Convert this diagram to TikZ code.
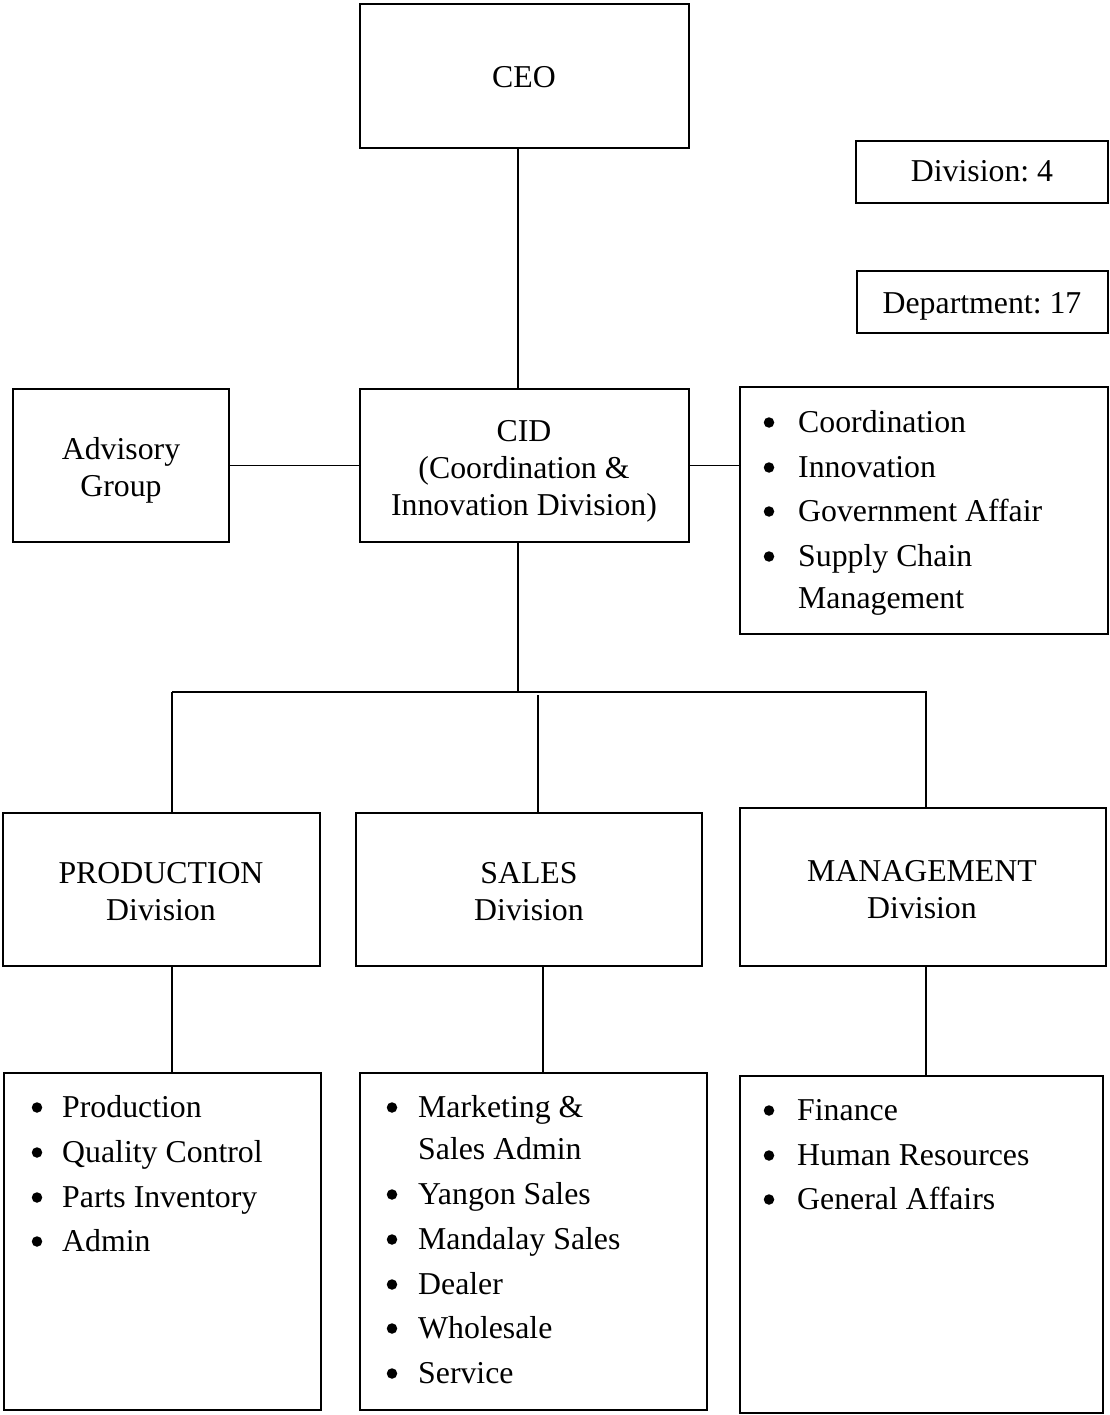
\documentclass[tikz,border=0pt]{standalone}
\usepackage{fontspec}
\setmainfont{Liberation Serif}
\frenchspacing
\begin{document}
\begin{tikzpicture}[x=1pt,y=-1pt,
  box/.style={draw=black,line width=2pt,rectangle,inner sep=0pt,outer sep=0pt},
  link/.style={draw=black,line width=1.2pt},
  txt/.style={inner sep=0pt,align=center,font=\fontsize{31.8pt}{37pt}\selectfont},
  dot/.style={circle,fill=black,inner sep=0pt,minimum size=10.5pt}]
\useasboundingbox[fill=white] (0,0) rectangle (1109,1415);

% one bulleted line: name, bullet x, text x, baseline y, text
\newcommand\listline[5]{%
  \node[dot] (#1b) at (#2,{#4-9.5}) {};
  \node[txt,anchor=base west] (#1) at (#3,#4) {#5};}
% continuation of a bulleted line
\newcommand\contline[4]{%
  \node[txt,anchor=base west] (#1) at (#2,#3) {#4};}

% ---- boxes ----
\node[box,minimum width=329,minimum height=144] (ceo) at (524.5,76) {};
\node[box,minimum width=252,minimum height=62] (div) at (982,172) {};
\node[box,minimum width=251,minimum height=62] (dept) at (982.5,302) {};
\node[box,minimum width=216,minimum height=153] (adv) at (121,465.5) {};
\node[box,minimum width=329,minimum height=153] (cid) at (524.5,465.5) {};
\node[box,minimum width=368,minimum height=247] (cidlist) at (924,510.5) {};
\node[box,minimum width=317,minimum height=153] (prod) at (161.5,889.5) {};
\node[box,minimum width=346,minimum height=153] (sales) at (529,889.5) {};
\node[box,minimum width=366,minimum height=158] (mgmt) at (923,887) {};
\node[box,minimum width=317,minimum height=337] (prodlist) at (162.5,1241.5) {};
\node[box,minimum width=347,minimum height=337] (saleslist) at (533.5,1241.5) {};
\node[box,minimum width=363,minimum height=337] (mgmtlist) at (921.5,1244.5) {};

% ---- box titles (anchored at the last baseline) ----
\node[txt,anchor=base] (ceot) at (524,88) {CEO};
\node[txt,anchor=base] (divt) at (982,182) {Division: 4};
\node[txt,anchor=base] (deptt) at (982,313) {Department: 17};
\node[txt,anchor=base] (advt) at (121,496) {Advisory\\Group};
\node[txt,anchor=base] (cidt) at (524,515) {CID\\(Coordination \&\\Innovation Division)};
\node[txt,anchor=base] (prodt) at (161,920) {PRODUCTION\\Division};
\node[txt,anchor=base] (salest) at (529,920) {SALES\\Division};
\node[txt,anchor=base] (mgmtt) at (922,918) {MANAGEMENT\\Division};

% ---- list contents ----
\listline{c1}{769}{798}{432}{Coordination}
\listline{c2}{769}{798}{477}{Innovation}
\listline{c3}{769}{798}{521}{Government Affair}
\listline{c4}{769}{798}{566}{Supply Chain}
\contline{c5}{798}{608}{Management}

\listline{p1}{37}{62}{1117}{Production}
\listline{p2}{37}{62}{1162}{Quality Control}
\listline{p3}{37}{62}{1207}{Parts Inventory}
\listline{p4}{37}{62}{1251}{Admin}

\listline{s1}{392}{418}{1117}{Marketing \&}
\contline{s2}{418}{1159}{Sales Admin}
\listline{s3}{392}{418}{1204}{Yangon Sales}
\listline{s4}{392}{418}{1249}{Mandalay Sales}
\listline{s5}{392}{418}{1294}{Dealer}
\listline{s6}{392}{418}{1338}{Wholesale}
\listline{s7}{392}{418}{1383}{Service}

\listline{m1}{769}{797}{1120}{Finance}
\listline{m2}{769}{797}{1165}{Human Resources}
\listline{m3}{769}{797}{1209}{General Affairs}

% ---- connectors ----
\coordinate (spine) at (518,692);
\coordinate (busL) at (172,692);
\coordinate (busR) at (927,692);
\coordinate (salesTop) at (538,695);
\coordinate (pcol) at (172,0);
\coordinate (scol) at (543,0);
\coordinate (mcol) at (926,0);

\draw[link] (ceo.south -| spine) -- (cid.north -| spine);
\draw[link] (adv.east) -- (cid.west);
\draw[link] (cid.east) -- (cid.east -| cidlist.west);
\draw[link] (cid.south -| spine) -- (spine);
\draw[link] (busL) -- (busR);
\draw[link] (busL) -- (prod.north -| busL);
\draw[link] (salesTop) -- (sales.north -| salesTop);
\draw[link] (busR -| mcol) -- (mgmt.north -| mcol);
\draw[link] (prod.south -| pcol) -- (prodlist.north -| pcol);
\draw[link] (sales.south -| scol) -- (saleslist.north -| scol);
\draw[link] (mgmt.south -| mcol) -- (mgmtlist.north -| mcol);
\end{tikzpicture}
\end{document}
